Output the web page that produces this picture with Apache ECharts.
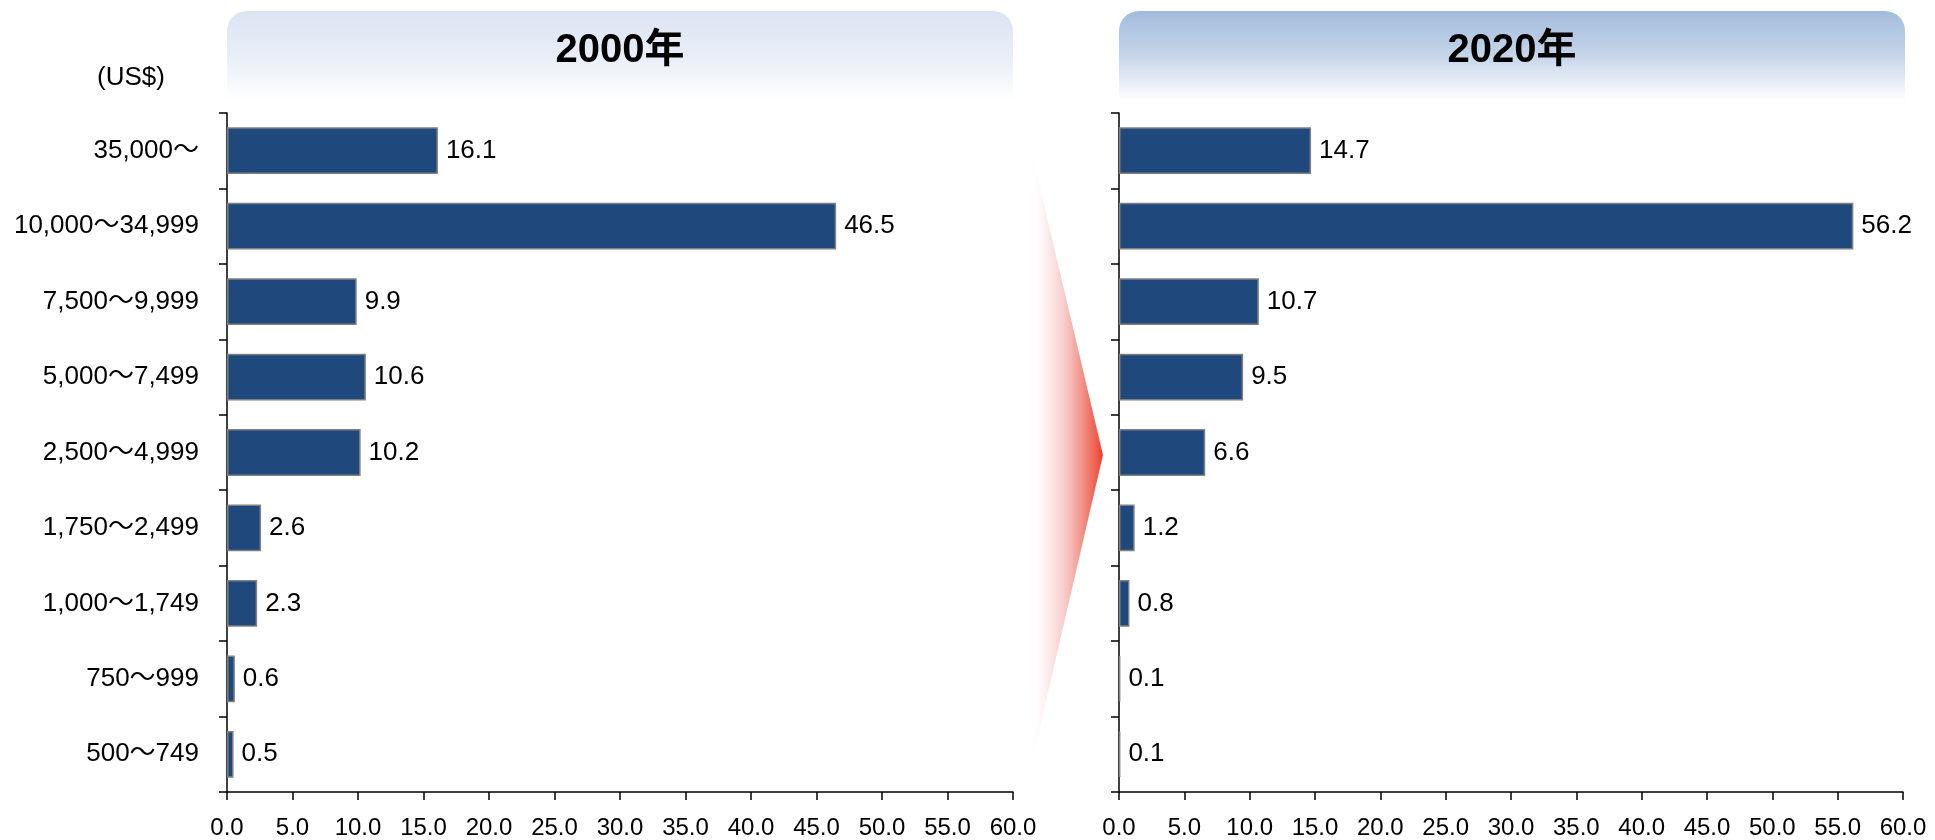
<!DOCTYPE html>
<html>
<head>
    <meta charset="utf-8">
    <title>ECharts</title>
    <script src="https://cdn.jsdelivr.net/npm/echarts@6/dist/echarts.min.js"></script>
    <style>
        body { margin: 0; background: #fff; }
    </style>
</head>
<body>
<div id="main" style="width: 1935px;height:840px;"></div>
<script type="text/javascript">
    // 所得階層（US$）
    var categories = ['35,000～', '10,000～34,999', '7,500～9,999', '5,000～7,499', '2,500～4,999',
        '1,750～2,499', '1,000～1,749', '750～999', '500～749'];
    var values2000 = [16.1, 46.5, 9.9, 10.6, 10.2, 2.6, 2.3, 0.6, 0.5];
    var values2020 = [14.7, 56.2, 10.7, 9.5, 6.6, 1.2, 0.8, 0.1, 0.1];
    var titles = ['2000年', '2020年'];
    var unitLabel = '(US$)';

    var FONT = '"Liberation Sans", Arial, "Noto Sans CJK JP", sans-serif';

    var myChart = echarts.init(document.getElementById('main'));

    function xAxisOf(idx) {
        return {
            type: 'value',
            gridIndex: idx,
            min: 0,
            max: 60,
            interval: 5,
            splitLine: {show: false},
            axisLine: {show: true, lineStyle: {color: '#000', width: 1.5}},
            axisTick: {show: true, length: 8, lineStyle: {color: '#000', width: 1.5}},
            axisLabel: {
                margin: 16,
                padding: [8, 0, 0, 0],
                color: '#000',
                fontSize: 24,
                fontFamily: FONT,
                formatter: function(v) { return v.toFixed(1); }
            }
        };
    }

    function yAxisOf(idx, showLabel) {
        return {
            type: 'category',
            gridIndex: idx,
            inverse: true,
            data: categories,
            axisLine: {show: true, lineStyle: {color: '#000', width: 1.5}},
            axisTick: {show: true, length: 8, lineStyle: {color: '#000', width: 1.5}},
            axisLabel: {
                show: showLabel,
                margin: 28,
                padding: [12, 0, 0, 0],
                color: '#000',
                fontSize: 26,
                fontFamily: FONT
            }
        };
    }

    function seriesOf(idx, data) {
        return {
            type: 'bar',
            xAxisIndex: idx,
            yAxisIndex: idx,
            data: data,
            barWidth: '62%',
            itemStyle: {color: '#1f497d', borderColor: '#808080', borderWidth: 1.5},
            label: {
                show: true,
                position: 'right',
                distance: 8,
                padding: [12, 0, 0, 0],
                color: '#000',
                fontSize: 26,
                fontFamily: FONT,
                formatter: function(p) { return p.value.toFixed(1); }
            }
        };
    }

    function header(x, w, topColor, midColor) {
        return {
            type: 'rect',
            z: -10,
            shape: {x: x, y: 11, width: w, height: 90, r: [20, 20, 0, 0]},
            style: {
                fill: new echarts.graphic.LinearGradient(0, 0, 0, 1, [
                    {offset: 0, color: topColor},
                    {offset: 0.5, color: midColor},
                    {offset: 1, color: '#ffffff'}
                ])
            }
        };
    }

    myChart.setOption({
        animation: false,
        grid: [
            {left: 227, top: 113, width: 786, height: 680},
            {left: 1119, top: 113, width: 784, height: 680}
        ],
        xAxis: [xAxisOf(0), xAxisOf(1)],
        yAxis: [yAxisOf(0, true), yAxisOf(1, false)],
        series: [seriesOf(0, values2000), seriesOf(1, values2020)],
        graphic: [
            header(227, 786, '#dae4f1', '#e8eef7'),
            header(1119, 786, '#a3bcdc', '#c6d5ea'),
            {
                type: 'text', x: 620, y: 51,
                style: {text: titles[0], font: 'bold 40px ' + FONT, fill: '#000',
                    textAlign: 'center', textVerticalAlign: 'middle'}
            },
            {
                type: 'text', x: 1512, y: 51,
                style: {text: titles[1], font: 'bold 40px ' + FONT, fill: '#000',
                    textAlign: 'center', textVerticalAlign: 'middle'}
            },
            {
                type: 'text', x: 131, y: 78,
                style: {text: unitLabel, font: '26px ' + FONT, fill: '#000',
                    textAlign: 'center', textVerticalAlign: 'middle'}
            },
            {
                // 右向きの矢印
                type: 'polygon',
                shape: {points: [[1030, 145], [1103, 455], [1030, 770]]},
                style: {
                    fill: new echarts.graphic.LinearGradient(0, 0, 1, 0, [
                        {offset: 0, color: 'rgba(255,255,255,0)'},
                        {offset: 0.2, color: '#fdf1f1'},
                        {offset: 0.45, color: '#f8d0d0'},
                        {offset: 0.68, color: '#f29b94'},
                        {offset: 0.92, color: '#ef5a48'},
                        {offset: 1, color: '#ee3b2a'}
                    ])
                }
            }
        ]
    });
</script>
</body>
</html>
